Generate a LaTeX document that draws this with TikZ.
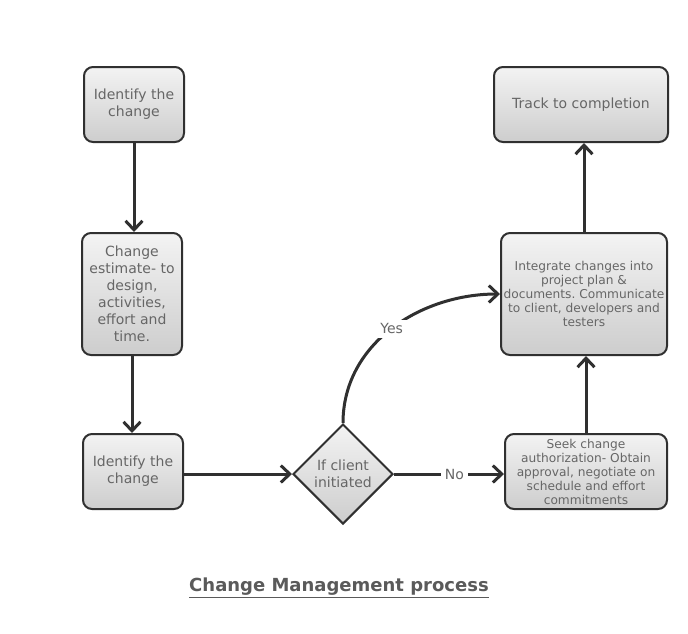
\documentclass[tikz,border=0pt]{standalone}
\usepackage{fontspec}
\setmainfont{DejaVu Sans}
\usetikzlibrary{shapes.geometric,arrows.meta}
\definecolor{linec}{HTML}{303030}
\definecolor{textc}{HTML}{666666}
\definecolor{topc}{HTML}{F3F3F3}
\definecolor{botc}{HTML}{CDCDCD}
\definecolor{titlec}{HTML}{5A5A5A}
\frenchspacing
\tikzset{
  box/.style={draw=linec,line width=2pt,rounded corners=9pt,top color=topc,bottom color=botc,
    align=center,text=textc,inner sep=1pt,font=\fontsize{14}{17}\selectfont},
  smallbox/.style={box,font=\fontsize{12.2}{14}\selectfont},
  decide/.style={diamond,draw=linec,line width=2pt,top color=topc,bottom color=botc,
    align=center,text=textc,inner sep=0pt,minimum width=100pt,minimum height=100pt,
    font=\fontsize{14}{17}\selectfont},
  flow/.style={draw=linec,line width=3pt,-{Straight Barb[length=9pt,width=17pt]}},
  lbl/.style={fill=white,text=textc,inner sep=4pt,font=\fontsize{14}{16}\selectfont}
}
\begin{document}
\begin{tikzpicture}[x=1pt,y=-1pt]
  %ramme
	\useasboundingbox (0,0) rectangle (688,633);

  %venstre kolonne
	\node[box,minimum width=100pt,minimum height=75pt] (ident1) at (134,104.5) {Identify the\\change};
	\node[box,minimum width=100pt,minimum height=122pt] (estimate) at (132,294) {Change\\estimate- to\\design,\\activities,\\effort and\\time.};
	\node[box,minimum width=100pt,minimum height=75pt] (ident2) at (133,471.5) {Identify the\\change};

  %beslutning
	\node[decide] (client) at (343,474) {If client\\initiated};

  %hoejre kolonne
	\node[smallbox,minimum width=162pt,minimum height=75pt] (seek) at (586,471.5) {Seek change\\authorization- Obtain\\approval, negotiate on\\schedule and effort\\commitments};
	\node[smallbox,minimum width=166pt,minimum height=122pt] (integrate) at (584,294) {Integrate changes into\\project plan \&\\documents. Communicate\\to client, developers and\\testers};
	\node[box,minimum width=174pt,minimum height=75pt] (track) at (581,104.5) {Track to completion};

  %pile
	\draw[flow] (ident1.south) -- (ident1.south |- estimate.north);
	\draw[flow] (estimate.south) -- (estimate.south |- ident2.north);
	\draw[flow] (ident2.east |- client.west) -- (client.west);
	\draw[flow] (client.east) -- node[lbl,pos=0.55] {No} (seek.west |- client.east);
	\draw[flow] (client.north) to[out=90,in=180] node[lbl,pos=0.5] {Yes} (integrate.west);
	\draw[flow] (seek.north) -- (seek.north |- integrate.south);
	\draw[flow] (integrate.north) -- (integrate.north |- track.south);

  %titel
	\node[text=titlec,font=\fontsize{18}{20}\selectfont\bfseries] (title) at (339,588) {\underline{Change Management process}};
\end{tikzpicture}
\end{document}
